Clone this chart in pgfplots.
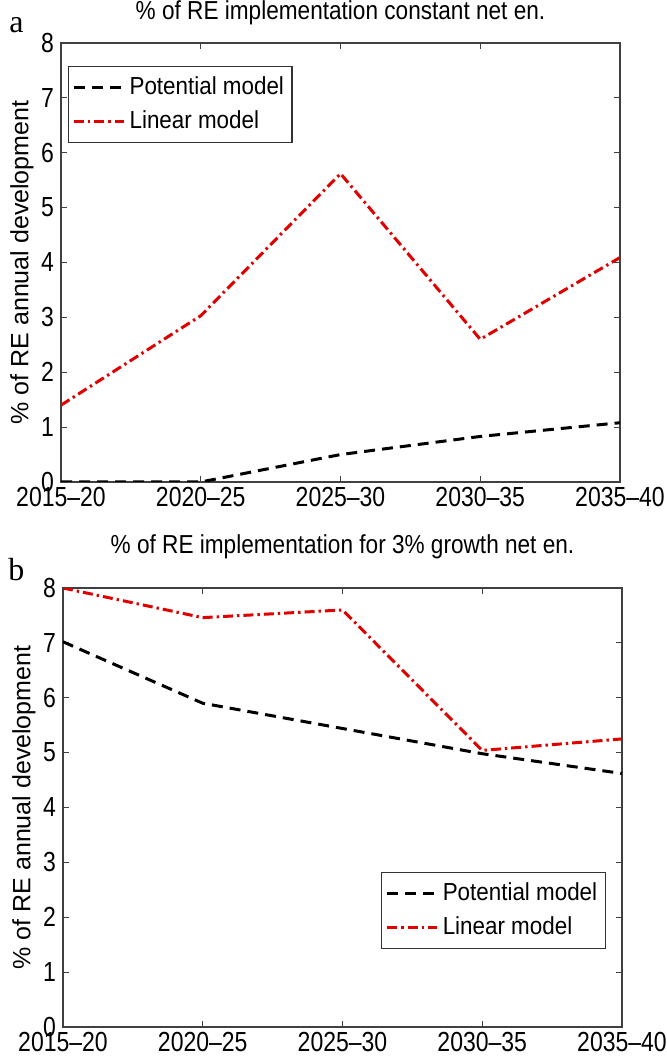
\documentclass[border=0pt]{standalone}
\usepackage{pgfplots}
\pgfplotsset{compat=1.18}
\usepackage{fontspec}
\setmainfont{Liberation Sans}
\newfontfamily\seriffont{Liberation Serif}
\definecolor{mred}{RGB}{225,0,0}

\pgfplotstableread{
x pot lin
0 0.00 1.40
1 0.00 3.03
2 0.50 5.62
3 0.83 2.60
4 1.08 4.09
}\dataA
\pgfplotstableread{
x pot lin
0 7.02 8.00
1 5.90 7.46
2 5.44 7.60
3 4.98 5.04
4 4.62 5.25
}\dataB

\pgfplotsset{
  mystyle/.style={
    scale only axis,
    width=279.5pt, height=219.5pt,
    xmin=0, xmax=4, ymin=0, ymax=8,
    xtick={0,1,2,3,4},
    xticklabels={2015--20,2020--25,2025--30,2030--35,2035--40},
    ytick={0,1,2,3,4,5,6,7,8},
    tick align=inside, tick pos=both,
    major tick length=3pt,
    axis line style={draw=black!75, line width=0.6pt},
    every tick/.style={draw=black!75, line width=0.6pt},
    /pgf/number format/assume math mode=true,
    tick label style={font=\fontsize{11.5}{12}\selectfont, yscale=1.2},
    xticklabel style={inner sep=2pt},
    ylabel={\% of RE annual development},
    every axis y label/.style={at={(axis description cs:-0.07,0.5)}, rotate=90, anchor=center, font=\fontsize{12.5}{12}\selectfont},
    title style={font=\fontsize{11.3}{12}\selectfont, anchor=base, at={(axis description cs:0.5,1)}, yscale=1.15},
    legend cell align=left,
    legend style={font=\fontsize{11.2}{12}\selectfont, draw=black!80, line width=0.6pt, inner xsep=2pt, inner ysep=3pt, row sep=2pt, nodes={inner sep=2pt, yscale=1.1}},
    legend image code/.code={\draw[##1] (0pt,0pt) -- (25pt,0pt);},
  },
  potstyle/.style={black, line width=1.5pt, dash pattern=on 5.5pt off 3.5pt},
  linstyle/.style={mred, line width=1.5pt, dash pattern=on 5pt off 2pt on 1.2pt off 2pt},
}

\begin{document}
\begin{tikzpicture}
\useasboundingbox (0,0) rectangle (333pt,-529pt);
\node[anchor=base west, inner sep=0pt, font=\seriffont\fontsize{16}{16}\selectfont] at (4.5pt,-16.5pt) {a};
\node[anchor=base west, inner sep=0pt, font=\seriffont\fontsize{16}{16}\selectfont] at (4pt,-290pt) {b};

\begin{axis}[mystyle,
  at={(30.5pt,-21.5pt)}, anchor=north west,
  title={\% of RE implementation constant net en.},
  title style={yshift=5pt},
  legend style={at={(0.0125,0.948)}, anchor=north west}]
\addplot[potstyle] table[x=x,y=pot] {\dataA};
\addlegendentry{Potential model}
\addplot[linstyle] table[x=x,y=lin] {\dataA};
\addlegendentry{Linear model}
\end{axis}

\begin{axis}[mystyle,
  at={(31.5pt,-294pt)}, anchor=north west,
  title={\% of RE implementation for 3\% growth net en.},
  title style={yshift=10pt},
  legend style={at={(0.971,0.353)}, anchor=north east}]
\addplot[potstyle] table[x=x,y=pot] {\dataB};
\addlegendentry{Potential model}
\addplot[linstyle] table[x=x,y=lin] {\dataB};
\addlegendentry{Linear model}
\end{axis}
\end{tikzpicture}
\end{document}
